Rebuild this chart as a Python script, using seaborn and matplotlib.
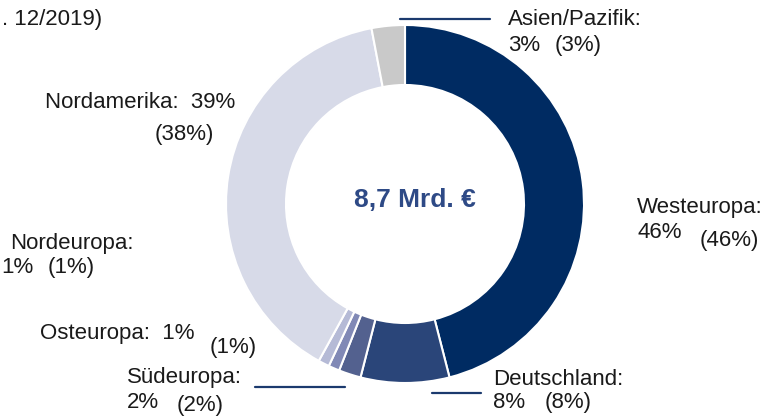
import matplotlib
matplotlib.use("Agg")
import matplotlib.pyplot as plt
import seaborn as sns

# data
regions = ["Westeuropa", "Deutschland", "Südeuropa", "Osteuropa", "Nordeuropa", "Nordamerika", "Asien/Pazifik"]
share_2019 = [46, 8, 2, 1, 1, 39, 3]
share_prev = [46, 8, 2, 1, 1, 38, 3]
colors = ["#002B62", "#2A4579", "#53618F", "#8189B6", "#B5BAD6", "#D7DAE8", "#C9C9C9"]
total_label = "8,7 Mrd. €"

sns.set_theme(style="white")
plt.rcParams["font.family"] = ["Liberation Sans", "DejaVu Sans"]

fig = plt.figure(figsize=(7.72, 4.18), dpi=100)
ax = fig.add_axes([0, 0, 1, 1])

# donut in pixel coords (y axis inverted, so -90 is the top and ccw looks clockwise)
ax.pie(share_2019, colors=colors, startangle=-90, counterclock=True,
       center=(405, 204), radius=179, frame=True,
       wedgeprops=dict(width=60, edgecolor="white", linewidth=1.5))
ax.set_xlim(0, 772)
ax.set_ylim(418, 0)
ax.set_aspect("equal")
ax.axis("off")

ax.text(415, 207, total_label, ha="center", va="baseline", fontsize=19,
        fontweight="bold", color="#2E4A86")

fs = 16
tc = "#1a1a1a"
lc = "#1B3A6E"


def put(x, y, s):
    ax.text(x, y, s, fontsize=fs, color=tc, va="baseline")


put(2, 25, ". 12/2019)")

# Asien/Pazifik
ax.plot([400, 490], [19, 19], color=lc, lw=1.6)
put(508, 25, f"{regions[6]}:")
put(508, 51, f"{share_2019[6]}%")
put(555, 51, f"({share_prev[6]}%)")
# Westeuropa
put(637, 213, f"{regions[0]}:")
put(637, 238, f"{share_2019[0]}%")
put(700, 246, f"({share_prev[0]}%)")
# Deutschland
ax.plot([432, 481], [393, 393], color=lc, lw=1.6)
put(493, 385, f"{regions[1]}:")
put(493, 408, f"{share_2019[1]}%")
put(545, 408, f"({share_prev[1]}%)")
# Südeuropa
ax.plot([255, 345], [387, 387], color=lc, lw=1.6)
put(127, 383, f"{regions[2]}:")
put(127, 408, f"{share_2019[2]}%")
put(177, 411, f"({share_prev[2]}%)")
# Osteuropa
put(40, 339, f"{regions[3]}:  {share_2019[3]}%")
put(210, 353, f"({share_prev[3]}%)")
# Nordeuropa
put(10, 249, f"{regions[4]}:")
put(1, 273, f"{share_2019[4]}%")
put(48, 273, f"({share_prev[4]}%)")
# Nordamerika
put(45, 108, f"{regions[5]}:  {share_2019[5]}%")
put(155, 140, f"({share_prev[5]}%)")

fig.savefig("out.png", dpi=100)
